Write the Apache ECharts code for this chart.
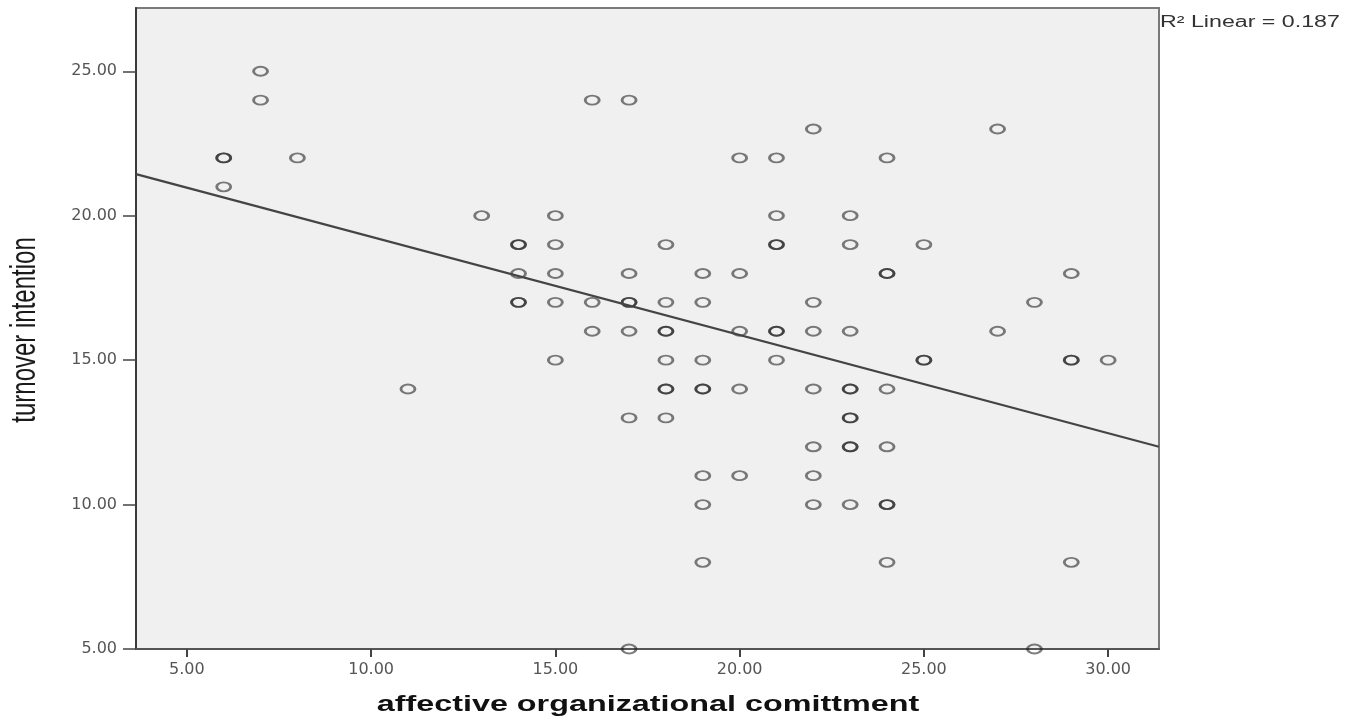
<!DOCTYPE html>
<html>
<head>
<meta charset="utf-8">
<script src="https://cdn.jsdelivr.net/npm/echarts@6/dist/echarts.min.js"></script>
<style>
  html, body { margin: 0; padding: 0; background: #ffffff; }
  #chart { width: 1366px; height: 723px; }
</style>
</head>
<body>
<div id="chart"></div>
<script>
// affective organizational comittment (x) / turnover intention (y); overlapping cases repeated
const xValues = [
  6, 6, 6,
  7, 7,
  8,
  11,
  13,
  14, 14, 14, 14, 14,
  15, 15, 15, 15, 15,
  16, 16, 16,
  17, 17, 17, 17, 17, 17, 17,
  18, 18, 18, 18, 18, 18, 18, 18,
  19, 19, 19, 19, 19, 19, 19, 19,
  20, 20, 20, 20, 20,
  21, 21, 21, 21, 21, 21, 21,
  22, 22, 22, 22, 22, 22, 22,
  23, 23, 23, 23, 23, 23, 23, 23, 23, 23,
  24, 24, 24, 24, 24, 24, 24, 24,
  25, 25, 25,
  27, 27,
  28, 28,
  29, 29, 29, 29,
  30
];
const yValues = [
  22, 22, 21,
  25, 24,
  22,
  14,
  20,
  19, 19, 18, 17, 17,
  20, 19, 18, 17, 15,
  24, 17, 16,
  24, 18, 17, 17, 16, 13, 5,
  19, 17, 16, 16, 15, 14, 14, 13,
  18, 17, 15, 14, 14, 11, 10, 8,
  22, 18, 16, 14, 11,
  22, 20, 19, 19, 16, 16, 15,
  23, 17, 16, 14, 12, 11, 10,
  20, 19, 16, 14, 14, 13, 13, 12, 12, 10,
  22, 18, 18, 14, 12, 10, 10, 8,
  19, 15, 15,
  23, 16,
  17, 5,
  18, 15, 15, 8,
  15
];
// fitted line (R² Linear = 0.187) endpoints
const fitX = [3.62, 31.38];
const fitY = [21.44, 12.0];
// axis ranges and tick labels
const xRange = [3.62, 31.38];
const yRange = [5, 27.19];
const xTicks = [5, 10, 15, 20, 25, 30];
const yTicks = [5, 10, 15, 20, 25];
const xTitle = 'affective organizational comittment';
const yTitle = 'turnover intention';
const fitLabel = 'R² Linear = 0.187';

const points = xValues.map((x, i) => [x, yValues[i]]);
const fitLine = fitX.map((x, i) => [x, fitY[i]]);

const chart = echarts.init(document.getElementById('chart'), null, { renderer: 'canvas' });
chart.setOption({
  animation: false,
  backgroundColor: '#ffffff',
  grid: {
    left: 136, right: 207, top: 8, bottom: 74,
    show: true,
    backgroundColor: '#f0f0f0',
    borderColor: '#7a7a7a',
    borderWidth: 2
  },
  xAxis: {
    type: 'value',
    min: xRange[0], max: xRange[1],
    splitLine: { show: false },
    axisLine: { show: true, onZero: false, lineStyle: { color: '#555555', width: 2 } },
    axisTick: { show: true, length: 8, customValues: xTicks, lineStyle: { color: '#444444', width: 2 } },
    axisLabel: {
      customValues: xTicks,
      margin: 13,
      color: '#555555',
      fontFamily: 'DejaVu Sans',
      fontSize: 16,
      formatter: v => Number(v).toFixed(2)
    }
  },
  yAxis: {
    type: 'value',
    min: yRange[0], max: yRange[1],
    splitLine: { show: false },
    axisLine: { show: true, onZero: false, lineStyle: { color: '#3a3a3a', width: 2 } },
    axisTick: { show: true, length: 13, customValues: yTicks, lineStyle: { color: '#444444', width: 1.5 } },
    axisLabel: {
      customValues: yTicks,
      margin: 19,
      color: '#555555',
      fontFamily: 'DejaVu Sans',
      fontSize: 16,
      formatter: v => Number(v).toFixed(2)
    }
  },
  series: [
    {
      type: 'scatter',
      data: points,
      symbol: 'circle',
      symbolSize: [14, 9],
      clip: false,
      itemStyle: {
        color: 'rgba(0,0,0,0)',
        borderColor: 'rgba(30,30,30,0.72)',
        borderWidth: 2.3
      },
      emphasis: { disabled: true },
      z: 2
    },
    {
      type: 'line',
      data: fitLine,
      symbol: 'none',
      lineStyle: { color: '#444444', width: 2.2 },
      emphasis: { disabled: true },
      z: 3
    }
  ],
  graphic: [
    {
      type: 'text',
      x: 648, y: 705,
      scaleX: 1.47,
      silent: true,
      style: {
        text: xTitle,
        fontFamily: 'Liberation Sans',
        fontWeight: 'bold',
        fontSize: 22,
        fill: '#111111',
        textAlign: 'center',
        textVerticalAlign: 'middle'
      }
    },
    {
      type: 'text',
      x: 25, y: 330,
      rotation: Math.PI / 2,
      scaleY: 1.45,
      silent: true,
      style: {
        text: yTitle,
        fontFamily: 'Liberation Sans',
        fontSize: 24,
        fill: '#1a1a1a',
        textAlign: 'center',
        textVerticalAlign: 'middle'
      }
    },
    {
      type: 'text',
      x: 1160, y: 23,
      scaleX: 1.45,
      silent: true,
      style: {
        text: fitLabel,
        fontFamily: 'Liberation Sans',
        fontSize: 16,
        fill: '#333333',
        textAlign: 'left',
        textVerticalAlign: 'middle'
      }
    }
  ]
});
</script>
</body>
</html>
